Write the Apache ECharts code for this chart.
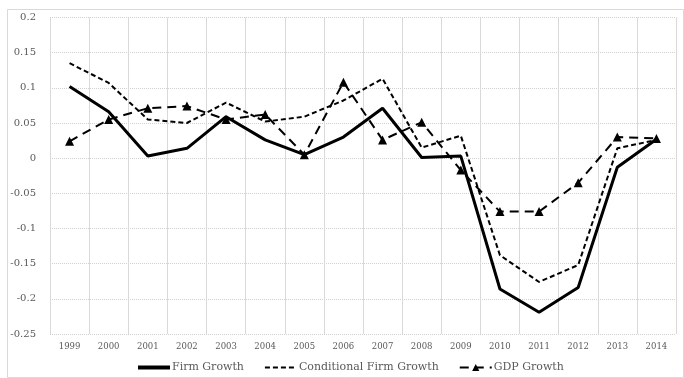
<!DOCTYPE html>
<html>
<head>
<meta charset="utf-8">
<script src="https://cdn.jsdelivr.net/npm/echarts@6/dist/echarts.min.js"></script>
<style>
html,body{margin:0;padding:0;background:#fff;}
#chart{width:684px;height:378px;}
</style>
</head>
<body>
<div id="chart"></div>
<script>
var years = ['1999','2000','2001','2002','2003','2004','2005','2006','2007','2008','2009','2010','2011','2012','2013','2014'];
var firmGrowth = [0.102, 0.066, 0.003, 0.014, 0.059, 0.026, 0.005, 0.030, 0.071, 0.001, 0.003, -0.186, -0.219, -0.184, -0.013, 0.027];
var condFirmGrowth = [0.135, 0.107, 0.055, 0.050, 0.079, 0.052, 0.059, 0.082, 0.113, 0.015, 0.032, -0.138, -0.176, -0.152, 0.014, 0.026];
var gdpGrowth = [0.024, 0.055, 0.071, 0.074, 0.055, 0.062, 0.005, 0.108, 0.026, 0.051, -0.017, -0.076, -0.076, -0.035, 0.030, 0.028];
var yMin = -0.25, yMax = 0.2, yStep = 0.05;

var font = 'DejaVu Serif';
var chart = echarts.init(document.getElementById('chart'));
chart.setOption({
  animation: false,
  backgroundColor: '#fff',
  graphic: [{
    type: 'rect', left: 5, top: 7, silent: true,
    shape: {width: 676, height: 368},
    style: {fill: 'none', stroke: '#d9d9d9', lineWidth: 1}
  }],
  grid: {left: 50, right: 8, top: 17.5, bottom: 44, containLabel: false},
  legend: {
    left: 131, top: 357,
    itemWidth: 32, itemHeight: 9, itemGap: 20,
    textStyle: {fontFamily: font, fontSize: 11, color: '#595959', padding: [0,0,0,-3]},
    data: [
      {name: 'Firm Growth', itemStyle: {color: 'transparent', borderWidth: 0, opacity: 0}, lineStyle: {width: 4}},
      {name: 'Conditional Firm Growth', itemStyle: {color: 'transparent', borderWidth: 0, opacity: 0}},
      {name: 'GDP Growth'}
    ]
  },
  xAxis: {
    type: 'category', data: years, boundaryGap: true,
    axisLine: {show: false}, axisTick: {show: false},
    axisLabel: {fontFamily: font, fontSize: 8.5, color: '#595959', margin: 8},
    splitLine: {show: true, lineStyle: {color: '#d9d9d9', width: 1, type: 'solid'}}
  },
  yAxis: {
    type: 'value', min: yMin, max: yMax, interval: yStep,
    axisLine: {show: false}, axisTick: {show: false},
    axisLabel: {fontFamily: font, fontSize: 10, color: '#595959', margin: 14,
      formatter: function (v) { return String(parseFloat(v.toFixed(2))); }},
    splitLine: {show: true, lineStyle: {color: '#d0d0d0', width: 1, type: [1, 1]}}
  },
  series: [
    {name: 'Firm Growth', type: 'line', data: firmGrowth, symbol: 'none',
     lineStyle: {color: '#000', width: 3, type: 'solid'}, itemStyle: {color: '#000'}},
    {name: 'Conditional Firm Growth', type: 'line', data: condFirmGrowth, symbol: 'none',
     lineStyle: {color: '#000', width: 2, type: [5, 3]}, itemStyle: {color: '#000'}},
    {name: 'GDP Growth', type: 'line', data: gdpGrowth, symbol: 'triangle', symbolSize: 9,
     lineStyle: {color: '#000', width: 2, type: [9, 6]}, itemStyle: {color: '#000'}}
  ]
});
</script>
</body>
</html>
